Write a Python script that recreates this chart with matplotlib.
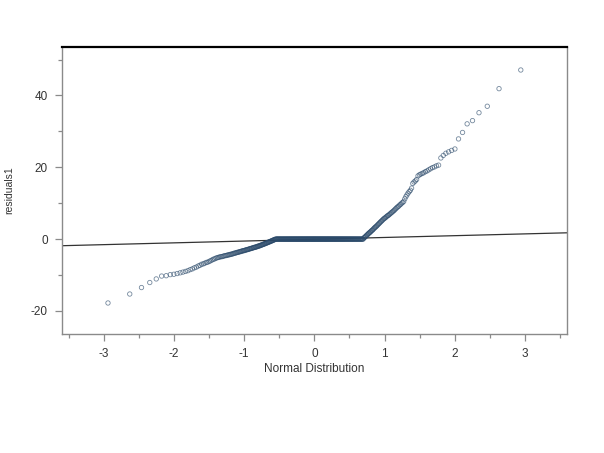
import matplotlib
matplotlib.use("Agg")
import matplotlib.pyplot as plt
from statistics import NormalDist

plt.rcParams['font.family'] = ['Liberation Sans', 'DejaVu Sans']

# Sorted residuals: lower tail, block of exact zeros, upper tail
lower_tail = [
    -17.8, -15.3, -13.5, -12.1, -11.1, -10.3, -10.2, -9.9, -9.8, -9.6, -9.4, -9.2, -9.0,
    -8.8, -8.5, -8.3, -8.0, -7.8, -7.5, -7.3, -7.0,
    -6.9, -6.7, -6.5, -6.4, -6.2, -6.0, -5.8, -5.6, -5.5, -5.3,
    -5.2, -5.1, -5.0, -4.9, -4.9, -4.8, -4.7, -4.6, -4.6, -4.5, -4.4, -4.4, -4.3,
    -4.2, -4.2, -4.1, -4.0, -3.9, -3.9, -3.8, -3.7, -3.7, -3.6, -3.5, -3.5, -3.4, -3.3, -3.3, -3.2,
    -3.2, -3.1, -3.0, -3.0, -2.9, -2.9, -2.8, -2.7, -2.7, -2.6, -2.6, -2.5, -2.4, -2.4, -2.3,
    -2.3, -2.2, -2.2, -2.1, -2.0, -2.0,
    -1.9, -1.9, -1.8, -1.7, -1.7, -1.6, -1.5, -1.5, -1.4, -1.3, -1.3, -1.2, -1.1, -1.1, -1.0,
    -0.9, -0.9, -0.8, -0.7, -0.7, -0.6, -0.5, -0.5,
    -0.4, -0.3, -0.3, -0.2, -0.1, -0.1,
]
n_zero = 178
upper_tail_desc = [
    47.1, 41.9, 37.0, 35.2, 33.0, 32.1, 29.7, 27.9,
    25.1, 24.7, 24.3, 23.9, 23.3, 22.6,
    20.6, 20.4, 20.1, 19.9, 19.6, 19.3, 19.0, 18.8, 18.5, 18.3, 18.1, 17.9, 17.6,
    16.6, 16.2, 15.9, 15.5,
    14.2, 13.6, 13.2, 12.8, 12.3,
    11.8, 11.2, 10.5,
    10.2, 10.0, 9.7, 9.5, 9.2, 9.0, 8.8, 8.5, 8.3, 8.0,
    7.8, 7.6, 7.4, 7.2, 7.0, 6.8, 6.6, 6.5, 6.3, 6.1, 5.9, 5.8,
    5.6, 5.4, 5.2, 5.0, 4.8, 4.6, 4.4, 4.2, 4.0, 3.8, 3.6, 3.4, 3.3, 3.1,
    2.9, 2.7, 2.5, 2.4, 2.2, 2.0, 1.9, 1.7, 1.6, 1.4, 1.2, 1.1, 0.9, 0.7, 0.6, 0.4, 0.3,
]

# Reference line (intercept, slope)
ref_intercept = -0.05
ref_slope = 0.5

x_ticks = [-3, -2, -1, 0, 1, 2, 3]
y_ticks = [-20, 0, 20, 40]

residuals = sorted(lower_tail + [0.0] * n_zero + upper_tail_desc)
n = len(residuals)
nd = NormalDist()
# Blom plotting positions for the expected normal quantiles
expected = [nd.inv_cdf((i - 0.375) / (n + 0.25)) for i in range(1, n + 1)]

fig = plt.figure(figsize=(6.04, 4.53), dpi=100)
ax = fig.add_axes([0.102, 0.263, 0.837, 0.634])

xlim = (-3.6, 3.6)
ax.plot(xlim, [ref_intercept + ref_slope * v for v in xlim],
        color='#333333', linewidth=0.9, zorder=2)
ax.scatter(expected, residuals, s=10, facecolors='none',
           edgecolors='#2b4a6a', linewidths=0.6, alpha=0.65, zorder=3)

ax.set_xlim(*xlim)
ax.set_ylim(-26.4, 53.6)
ax.set_xticks(x_ticks)
ax.set_xticklabels([str(t) for t in x_ticks])
ax.set_yticks(y_ticks)
ax.set_yticklabels([str(t) for t in y_ticks])
ax.set_xticks([-3.5, -2.5, -1.5, -0.5, 0.5, 1.5, 2.5, 3.5], minor=True)
ax.set_yticks([-10, 10, 30, 50], minor=True)

for side in ('left', 'bottom', 'right'):
    ax.spines[side].set_color('#8a8a8a')
    ax.spines[side].set_linewidth(1.0)
ax.spines['top'].set_color('black')
ax.spines['top'].set_linewidth(1.6)

ax.tick_params(which='both', direction='out', colors='#8a8a8a', labelcolor='#333333',
               labelsize=8.5, width=0.9)
ax.tick_params(which='major', length=5, pad=5)
ax.tick_params(which='minor', length=3)

ax.set_xlabel('Normal Distribution', fontsize=8.5, color='#333333', labelpad=2)
ax.set_ylabel('residuals1', fontsize=7.5, color='#333333', labelpad=12)

fig.savefig('out.png', dpi=100, facecolor='white')
